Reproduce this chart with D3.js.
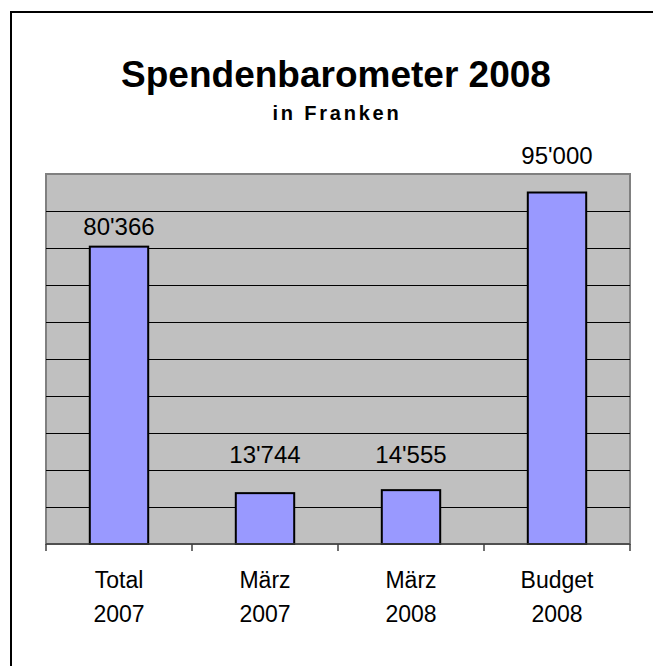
<!DOCTYPE html>
<html>
<head>
<meta charset="utf-8">
<script src="https://cdn.jsdelivr.net/npm/d3@7"></script>
<style>
  body { margin: 0; background: #fff; }
  svg { display: block; font-family: "Liberation Sans", Arial, sans-serif; }
</style>
</head>
<body>
<svg id="chart" width="653" height="666"></svg>
<script>
// data
const categories = ['Total 2007', 'März 2007', 'März 2008', 'Budget 2008']
const labelLines = [['Total', '2007'], ['März', '2007'], ['März', '2008'], ['Budget', '2008']]
const values = [80366, 13744, 14555, 95000]
const yTicks = [10000, 20000, 30000, 40000, 50000, 60000, 70000, 80000, 90000]
const titleText = 'Spendenbarometer 2008'
const subtitleText = 'in Franken'

// layout
const PLOT = {left: 46, top: 174, right: 630, bottom: 544}
const labelLift = [12, 30, 27, 29]   // value labels were placed by hand in the original

let svg = d3.select('#chart')

// outer frame (right/bottom run off the picture)
svg.append('rect')
  .attr('x', 11).attr('y', 12)
  .attr('width', 700).attr('height', 700)
  .attr('fill', 'none')
  .attr('stroke', '#000')
  .attr('stroke-width', 2)

svg.append('text')
  .attr('x', 336).attr('y', 87)
  .attr('text-anchor', 'middle')
  .style('font-size', '37px')
  .style('font-weight', 'bold')
  .text(titleText)

svg.append('text')
  .attr('x', 337).attr('y', 120)
  .attr('text-anchor', 'middle')
  .style('font-size', '20px')
  .style('font-weight', 'bold')
  .style('letter-spacing', '2.8px')
  .text(subtitleText)

let x = d3.scaleBand()
  .domain(categories)
  .range([PLOT.left, PLOT.right])
  .paddingInner(0.6)
  .paddingOuter(0.3)

let y = d3.scaleLinear()
  .domain([0, 100000])
  .range([PLOT.bottom, PLOT.top])

// plot background
svg.append('rect')
  .attr('x', PLOT.left).attr('y', PLOT.top)
  .attr('width', PLOT.right - PLOT.left)
  .attr('height', PLOT.bottom - PLOT.top)
  .attr('fill', '#c0c0c0')
  .attr('stroke', '#808080')
  .attr('stroke-width', 2)

// gridlines
let grid = d3.axisLeft(y)
  .tickValues(yTicks)
  .tickSize(-(PLOT.right - PLOT.left))
  .tickFormat('')

let g = svg.append('g')
  .attr('transform', 'translate(' + PLOT.left + ',0)')
  .call(grid)
g.select('.domain').remove()
g.selectAll('.tick line').attr('stroke', '#000').attr('stroke-width', 1)

// bars
svg.append('g').selectAll('rect')
  .data(values)
  .join('rect')
  .attr('x', (d, i) => x(categories[i]))
  .attr('y', d => y(d))
  .attr('width', x.bandwidth())
  .attr('height', d => y(0) - y(d))
  .attr('fill', '#9999ff')
  .attr('stroke', '#000')
  .attr('stroke-width', 2)

// x axis: ticks between categories
let bounds = d3.range(categories.length + 1).map(i => PLOT.left + i * x.step())
let xa = svg.append('g')
xa.append('line')
  .attr('x1', PLOT.left).attr('x2', PLOT.right)
  .attr('y1', PLOT.bottom).attr('y2', PLOT.bottom)
  .attr('stroke', '#404040').attr('stroke-width', 1.5)
xa.selectAll('.xt')
  .data(bounds)
  .join('line')
  .attr('class', 'xt')
  .attr('x1', d => d).attr('x2', d => d)
  .attr('y1', PLOT.bottom).attr('y2', PLOT.bottom + 7)
  .attr('stroke', '#404040').attr('stroke-width', 1.5)

// category labels
let cl = svg.append('g').selectAll('text')
  .data(labelLines)
  .join('text')
  .attr('text-anchor', 'middle')
  .style('font-size', '23px')
cl.selectAll('tspan')
  .data((d, i) => d.map(t => ({t: t, i: i})))
  .join('tspan')
  .attr('x', d => x(categories[d.i]) + x.bandwidth() / 2)
  .attr('y', (d, j) => 588 + j * 34)
  .text(d => d.t)

// value labels
let fmt = v => d3.format(',')(v).replace(/,/g, "'")
svg.append('g').selectAll('text')
  .data(values)
  .join('text')
  .attr('x', (d, i) => x(categories[i]) + x.bandwidth() / 2)
  .attr('y', (d, i) => y(d) - labelLift[i])
  .attr('text-anchor', 'middle')
  .style('font-size', '24px')
  .text(fmt)
</script>
</body>
</html>
